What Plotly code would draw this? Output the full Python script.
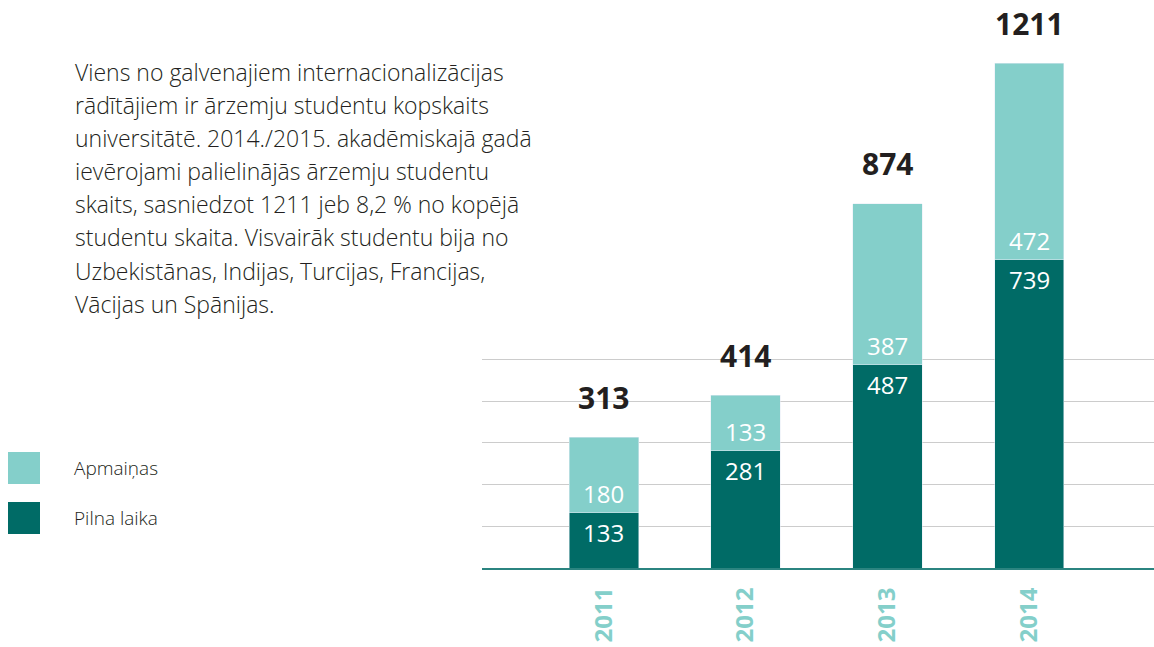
import plotly.graph_objects as go

years = ["2011", "2012", "2013", "2014"]
full_time = [133, 281, 487, 739]
exchange = [180, 133, 387, 472]
totals = [313, 414, 874, 1211]
series_names = ["Apmaiņas", "Pilna laika"]
grid_vals = [100, 200, 300, 400, 500]
paragraph = [
    "Viens no galvenajiem internacionalizācijas",
    "rādītājiem ir ārzemju studentu kopskaits",
    "universitātē. 2014./2015. akadēmiskajā gadā",
    "ievērojami palielinājās ārzemju studentu",
    "skaits, sasniedzot 1211 jeb 8,2 % no kopējā",
    "studentu skaita. Visvairāk studentu bija no",
    "Uzbekistānas, Indijas, Turcijas, Francijas,",
    "Vācijas un Spānijas.",
]

W, H = 1154, 647
ML, MR, MT, MB = 482, 0, 0, 79
PW, PH = W - ML - MR, H - MT - MB

LIGHT = "#84cfca"
DARK = "#006b66"
TEXT = "#231f20"
FONT = "Open Sans"


def px(xp):
    return (xp - ML) / PW


def py(yp):
    return (H - MB - yp) / PH


fig = go.Figure()
fig.add_bar(x=years, y=full_time, name=series_names[1], marker_color=DARK,
            width=0.49, hoverinfo="skip")
fig.add_bar(x=years, y=exchange, name=series_names[0], marker_color=LIGHT,
            width=0.49, hoverinfo="skip")

ann = []
for i, (f, e, t) in enumerate(zip(full_time, exchange, totals)):
    ann.append(dict(x=i, y=t, text=str(t), showarrow=False, yshift=40,
                    yanchor="middle",
                    font=dict(family=FONT, size=30, color=TEXT, weight=700)))
    ann.append(dict(x=i, y=f, text=str(e), showarrow=False, yshift=19,
                    yanchor="middle",
                    font=dict(family=FONT, size=24, color="white")))
    ann.append(dict(x=i, y=f, text=str(f), showarrow=False, yshift=-20,
                    yanchor="middle",
                    font=dict(family=FONT, size=24, color="white")))

for i, line in enumerate(paragraph):
    ann.append(dict(xref="paper", yref="paper", x=px(73), y=py(72 + 33.1 * i),
                    xanchor="left", yanchor="middle", text=line, showarrow=False,
                    font=dict(family=FONT, size=23, color=TEXT, weight=300)))

shapes = []
legend_items = [(series_names[0], LIGHT, 452), (series_names[1], DARK, 502)]
for name, col, top in legend_items:
    shapes.append(dict(type="rect", xref="paper", yref="paper",
                       x0=px(8), x1=px(40), y0=py(top + 32), y1=py(top),
                       fillcolor=col, line=dict(width=0)))
    ann.append(dict(xref="paper", yref="paper", x=px(72), y=py(top + 16),
                    xanchor="left", yanchor="middle", text=name, showarrow=False,
                    font=dict(family=FONT, size=19, color=TEXT, weight=300)))

fig.update_layout(
    width=W, height=H, margin=dict(l=ML, r=MR, t=MT, b=MB),
    barmode="stack", showlegend=False,
    plot_bgcolor="white", paper_bgcolor="white",
    annotations=ann, shapes=shapes,
    xaxis=dict(type="category", range=[-0.86, 3.88], tickangle=-90,
               ticks="outside", ticklen=8,
               tickcolor="rgba(0,0,0,0)", showline=True, linecolor="#2b8480",
               linewidth=2, showgrid=False,
               tickfont=dict(family=FONT, size=24, color=LIGHT, weight=700)),
    yaxis=dict(range=[0, PH / 0.417], tickvals=grid_vals, showticklabels=False,
               showgrid=True, gridcolor="#cccccc", gridwidth=1, zeroline=False),
)

fig.write_html("out.html", config={"displayModeBar": False},
               post_script="document.body.style.margin='0';document.body.style.overflow='hidden';")
